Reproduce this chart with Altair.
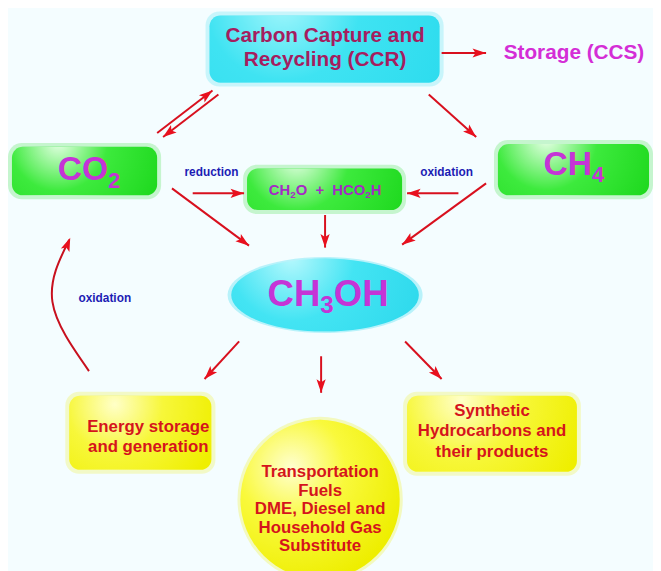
import math
import altair as alt
import pandas as pd

# ---------------- data ----------------
rect_names = ["CCR", "CO2", "CH4", "CH2O", "Energy", "Synth"]
rect_kind = ["cyan", "green", "green", "green", "yellow", "yellow"]
rect_x1 = [210, 10, 502, 248, 68, 410]
rect_x2 = [443, 157, 655, 405, 212, 582]
rect_y1 = [10, 143, 140, 165, 395, 395]
rect_y2 = [78, 192, 192, 207, 470, 472]

ellipse_x = [327]
ellipse_y = [293]
circle_x = [322]
circle_y = [500]

# plain labels
label_text = ["Carbon Capture and", "Recycling (CCR)", "Storage (CCS)",
              "reduction", "oxidation", "oxidation",
              "Energy storage", "and generation",
              "Synthetic", "Hydrocarbons and", "their products",
              "Transportation", "Fuels", "DME, Diesel and", "Household Gas", "Substitute"]
label_x = [327, 327, 579, 212, 450, 104,
           148, 148, 496, 496, 496, 322, 322, 322, 322, 322]
label_y = [31, 55, 48, 169, 169, 296,
           427, 447, 410, 431, 452, 472, 491, 510, 529, 547]
label_size = [21, 21, 21, 12, 12, 12,
              17, 17, 17, 17, 17, 17, 17, 17, 17, 17]
label_color = ["#a51d5f", "#a51d5f", "#d42ed6",
               "#1c1cb4", "#1c1cb4", "#1c1cb4",
               "#d5141c", "#d5141c", "#d5141c", "#d5141c", "#d5141c",
               "#d5141c", "#d5141c", "#d5141c", "#d5141c", "#d5141c"]

# chemical formulas: pieces, with subscript flags
NB = "\u00a0"
chem_pieces = [
    [("CO", 0), ("2", 1)],
    [("CH", 0), ("4", 1)],
    [("CH", 0), ("2", 1), ("O" + NB * 2 + "+" + NB * 2 + "HCO", 0), ("2", 1), ("H", 0)],
    [("CH", 0), ("3", 1), ("OH", 0)],
]
chem_x = [88, 579, 327, 330]
chem_y = [167, 161, 187, 293]
chem_size = [34, 34, 15, 37]
chem_color = ["#c534d6", "#c534d6", "#a42cc4", "#c534d6"]

arrow_x1 = [445, 157, 219, 432, 172, 193, 490, 462, 327, 240, 323, 408]
arrow_y1 = [48, 129, 90, 90, 185, 190, 180, 190, 212, 340, 355, 340]
arrow_x2 = [490, 213, 163, 480, 250, 245, 405, 410, 327, 205, 323, 445]
arrow_y2 = [48, 86, 133, 133, 243, 190, 242, 190, 245, 378, 392, 378]

curve_x = [88, 51, 68]
curve_y = [370, 300, 237]
curve_order = [0, 1, 2]
curve_head_x = [69]
curve_head_y = [235]
curve_head_angle = [22]

# ---------------- layout helpers ----------------
ARIAL_BOLD = {"C": 0.722, "O": 0.778, "H": 0.722, " ": 0.278, NB: 0.278, "+": 0.584,
              "2": 0.556, "3": 0.556, "4": 0.556}


def text_w(s, size):
    return sum(ARIAL_BOLD.get(ch, 0.6) for ch in s) * size


rows = []
for t, x, y, s, c in zip(label_text, label_x, label_y, label_size, label_color):
    rows.append({"text": t, "x": x, "y": y, "size": s, "color": c})
for pieces, cx, cy, s, c in zip(chem_pieces, chem_x, chem_y, chem_size, chem_color):
    sub = s * 0.66
    widths = [text_w(t, sub if f else s) for t, f in pieces]
    left = cx - sum(widths) / 2
    for (t, f), w in zip(pieces, widths):
        rows.append({"text": t, "x": left + w / 2, "y": cy + (s * 0.3 if f else 0),
                     "size": sub if f else s, "color": c})
        left += w
labels = pd.DataFrame(rows)

rects = pd.DataFrame({"name": rect_names, "kind": rect_kind,
                      "x1": rect_x1, "x2": rect_x2, "y1": rect_y1, "y2": rect_y2})
arrows = pd.DataFrame({"x1": arrow_x1, "y1": arrow_y1, "x2": arrow_x2, "y2": arrow_y2})
arrows["angle"] = [
    (math.degrees(math.atan2(x2 - x1, -(y2 - y1))) + 360) % 360
    for x1, y1, x2, y2 in zip(arrow_x1, arrow_y1, arrow_x2, arrow_y2)
]
heads = pd.concat([
    arrows[["x2", "y2", "angle"]],
    pd.DataFrame({"x2": curve_head_x, "y2": curve_head_y, "angle": curve_head_angle}),
], ignore_index=True)
curve = pd.DataFrame({"x": curve_x, "y": curve_y, "o": curve_order})
ellipse = pd.DataFrame({"x": ellipse_x, "y": ellipse_y})
circle = pd.DataFrame({"x": circle_x, "y": circle_y})

X = alt.Scale(domain=[8, 653], nice=False, zero=False)
Y = alt.Scale(domain=[8, 563], nice=False, zero=False, reverse=True)


def xq(f):
    return alt.X(f, type="quantitative", scale=X, axis=None)


def yq(f):
    return alt.Y(f, type="quantitative", scale=Y, axis=None)


def radial(c0, c1, c2):
    return alt.RadialGradient(
        gradient="radial", x1=0.32, y1=0.3, r1=0.0, x2=0.32, y2=0.3, r2=0.75,
        stops=[alt.GradientStop(offset=0, color=c0),
               alt.GradientStop(offset=0.45, color=c1),
               alt.GradientStop(offset=1, color=c2)])


base_r = alt.Chart(rects)
fills = {
    "cyan": ("#a3f6fc", "#3fe3f2", "#2edcee"),
    "green": ("#e6ffe6", "#3dea3d", "#1fd91f"),
    "yellow": ("#ffffc8", "#f7f73a", "#efef00"),
}
layers = []
for kind, (c0, c1, c2) in fills.items():
    layers.append(
        base_r.transform_filter(alt.datum.kind == kind)
        .transform_calculate(gx1="datum.x1-4", gx2="datum.x2+4", gy1="datum.y1-4", gy2="datum.y2+4")
        .mark_rect(cornerRadius=14, color=c2, opacity=0.22)
        .encode(x=xq("gx1"), x2="gx2", y=yq("gy1"), y2="gy2")
    )
for kind, (c0, c1, c2) in fills.items():
    layers.append(
        base_r.transform_filter(alt.datum.kind == kind)
        .mark_rect(cornerRadius=11, fill=radial(c0, c1, c2))
        .encode(x=xq("x1"), x2="x2", y=yq("y1"), y2="y2")
    )

ellipse_path = "M-1,0A1,0.39,0,1,1,1,0A1,0.39,0,1,1,-1,0Z"
layers.append(
    alt.Chart(ellipse).mark_point(shape=ellipse_path, size=39000, filled=True, opacity=0.3,
                                  fill="#30dcee", strokeWidth=0)
    .encode(x=xq("x"), y=yq("y"))
)
layers.append(
    alt.Chart(ellipse).mark_point(shape=ellipse_path, size=36100, filled=True, opacity=1,
                                  fill=radial("#b5f8fd", "#43e4f3", "#2ed9ec"), strokeWidth=0)
    .encode(x=xq("x"), y=yq("y"))
)
layers.append(
    alt.Chart(circle).mark_point(shape="circle", size=28000, filled=True, opacity=0.25,
                                 fill="#eeee00", strokeWidth=0)
    .encode(x=xq("x"), y=yq("y"))
)
layers.append(
    alt.Chart(circle).mark_point(shape="circle", size=26000, filled=True, opacity=1,
                                 fill=radial("#ffffd0", "#f9f93c", "#eeee00"), strokeWidth=0)
    .encode(x=xq("x"), y=yq("y"))
)

# arrows
layers.append(
    alt.Chart(arrows).mark_rule(color="#d8101e", strokeWidth=2)
    .encode(x=xq("x1"), y=yq("y1"), x2="x2", y2="y2")
)
layers.append(
    alt.Chart(curve).mark_line(color="#c8101e", strokeWidth=2, interpolate="natural")
    .encode(x=xq("x"), y=yq("y"), order="o:Q")
)
head_path = "M0,0L0.34,1L0,0.78L-0.34,1Z"
layers.append(
    alt.Chart(heads).mark_point(shape=head_path, size=750, filled=True, opacity=1,
                                fill="#e8101e", strokeWidth=0)
    .encode(x=xq("x2"), y=yq("y2"), angle=alt.Angle("angle:Q", scale=None))
)

# labels
layers.append(
    alt.Chart(labels).mark_text(font="Liberation Sans", fontWeight="bold", baseline="middle",
                                align="center")
    .encode(x=xq("x"), y=yq("y"), text="text:N",
            size=alt.Size("size:Q", scale=None),
            color=alt.Color("color:N", scale=None))
)

chart = (
    alt.layer(*layers)
    .properties(width=645, height=555, padding=0, background="#f4fdff")
    .configure_view(stroke=None)
)

chart.save("out.html", embed_options={"renderer": "svg", "actions": False})
